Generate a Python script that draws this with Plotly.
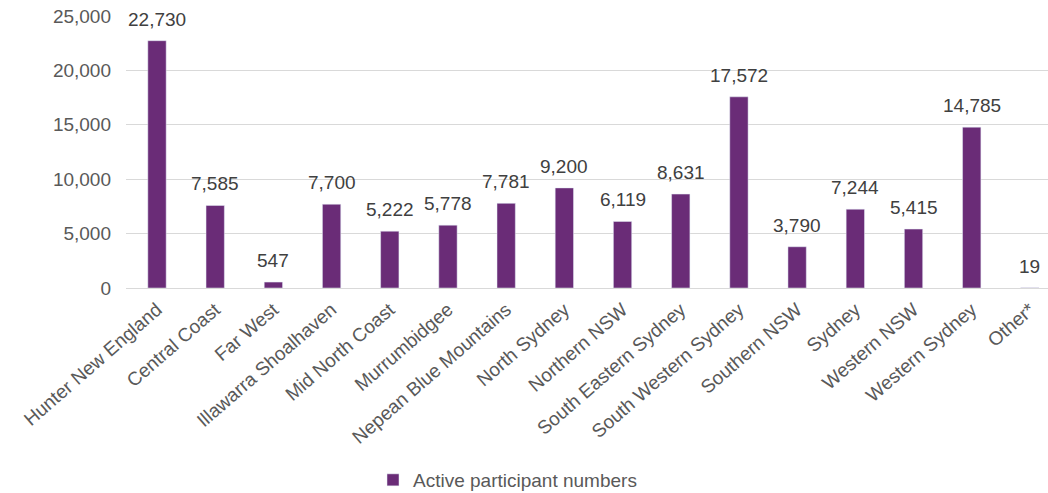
import plotly.graph_objects as go

categories = ["Hunter New England", "Central Coast", "Far West", "Illawarra Shoalhaven",
              "Mid North Coast", "Murrumbidgee", "Nepean Blue Mountains", "North Sydney",
              "Northern NSW", "South Eastern Sydney", "South Western Sydney", "Southern NSW",
              "Sydney", "Western NSW", "Western Sydney", "Other*"]
values = [22730, 7585, 547, 7700, 5222, 5778, 7781, 9200, 6119, 8631, 17572, 3790,
          7244, 5415, 14785, 19]
series_name = "Active participant numbers"
y_ticks = [0, 5000, 10000, 15000, 20000, 25000]

FONT = "Liberation Sans, Arial, sans-serif"
GREY = "#595959"
FS = 19

fig = go.Figure(go.Bar(
    x=categories, y=values, name=series_name,
    marker=dict(color="#6A2C77"),
    cliponaxis=False,
))
for c, v in zip(categories, values):
    fig.add_annotation(x=c, y=v, text=f"{v:,}", showarrow=False,
                       xanchor="center", yanchor="bottom", yshift=9,
                       font=dict(family=FONT, size=FS, color="#404040"))
W = 1059
fig.update_layout(
    width=W, height=493,
    margin=dict(l=126, r=0, t=16, b=205, autoexpand=False),
    paper_bgcolor="white", plot_bgcolor="white",
    bargap=0.685,
    showlegend=True,
    legend=dict(orientation="h", xref="container", yref="container",
                x=373 / W, xanchor="left", y=13 / 493, yanchor="middle",
                itemwidth=30,
                font=dict(family=FONT, size=FS, color=GREY)),
    font=dict(family=FONT, size=FS, color=GREY),
)
fig.update_yaxes(range=[0, 25000], tickvals=y_ticks, tickformat=",",
                 showgrid=True, gridcolor="#D9D9D9", gridwidth=1,
                 zeroline=True, zerolinecolor="#D9D9D9", zerolinewidth=1,
                 automargin=False, ticklabelstandoff=14,
                 tickfont=dict(family=FONT, size=FS, color=GREY), ticks="", ticklen=0)
fig.update_xaxes(tickangle=-41, showline=False, ticks="", automargin=False,
                 ticklabelstandoff=6,
                 tickfont=dict(family=FONT, size=FS, color=GREY))
fig.write_html("out.html", config={"displayModeBar": False},
               post_script="document.body.style.margin='0';document.body.style.overflow='hidden';")
